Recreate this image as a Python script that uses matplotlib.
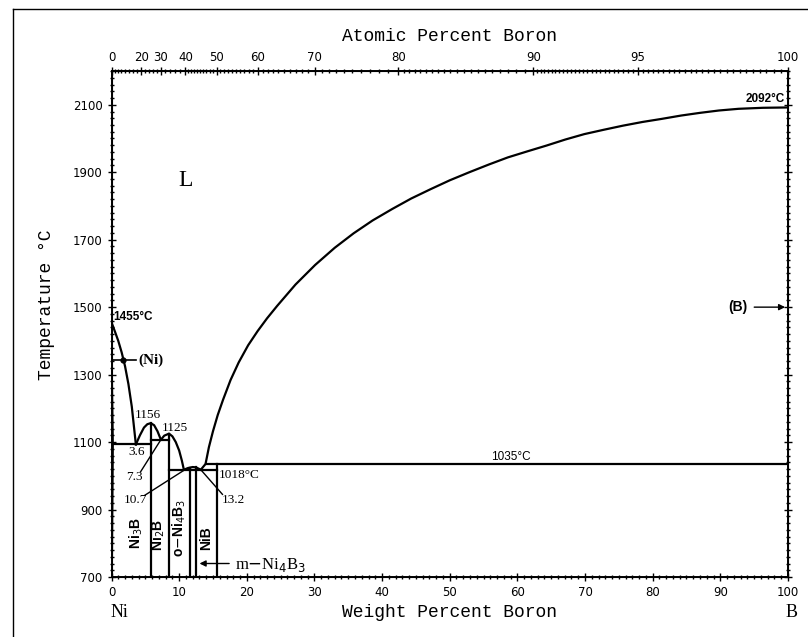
import numpy as np
import matplotlib
matplotlib.use("Agg")
import matplotlib.pyplot as plt
from matplotlib.lines import Line2D

# Ni-B phase diagram (wt% B, deg C)
liq_ni_x = [0, 0.5, 1.0, 1.5, 2.0, 2.5, 3.0, 3.6]
liq_ni_t = [1455, 1428, 1400, 1366, 1325, 1272, 1205, 1093]
sol_ni_x = [0, 0.25, 0.1]
sol_ni_t = [1455, 1093, 700]

ni3b_x = [3.6, 4.2, 4.8, 5.3, 5.8, 6.3, 6.8, 7.3]
ni3b_t = [1093, 1120, 1143, 1153, 1156, 1150, 1132, 1107]
ni2b_x = [7.3, 7.8, 8.5, 9.0, 9.5, 10.0, 10.4, 10.7]
ni2b_t = [1107, 1119, 1125, 1117, 1100, 1075, 1045, 1018]
o_dome_x = [10.7, 11.3, 12.0, 12.5, 13.2]
o_dome_t = [1018, 1023, 1026, 1025, 1018]

liq_b_x = [13.2, 13.9, 14.4, 15.0, 15.7, 16.5, 17.6, 18.8, 20.2, 21.6, 23.0, 24.5,
           27.2, 30.1, 33.0, 35.8, 38.6, 41.5, 44.3, 47.2, 50.0, 52.9, 55.8, 58.6,
           61.5, 64.3, 67.1, 69.9, 72.8, 75.6, 78.5, 81.3, 84.2, 87.0, 89.8, 92.7,
           96.3, 100]
liq_b_t = [1018, 1035, 1085, 1132, 1180, 1226, 1284, 1336, 1387, 1429, 1467, 1504,
           1567, 1625, 1676, 1719, 1757, 1791, 1822, 1850, 1876, 1900, 1923, 1944,
           1962, 1979, 1997, 2013, 2026, 2038, 2049, 2058, 2068, 2076, 2083, 2088,
           2091, 2092]

# invariant lines: (x from, x to, temperature)
horiz = [(0, 5.8, 1093), (5.8, 8.5, 1107), (8.5, 15.6, 1018), (13.9, 100, 1035)]
# compounds: (wt% B, top temperature)
comp_x = [5.8, 8.5, 11.6, 12.5, 15.6]
comp_top = [1156, 1125, 1024, 1025, 1035]

top_at = [0, 20, 30, 40, 50, 60, 70, 80, 90, 95, 100]


def at2wt(a):
    a = np.asarray(a, dtype=float)
    return 100 * a * 10.81 / (a * 10.81 + (100 - a) * 58.69)


plt.rcParams['font.family'] = ['DejaVu Sans']
fig = plt.figure(figsize=(8.08, 6.37), dpi=100)
ax = fig.add_axes([0.138, 0.0942, 0.8372, 0.7943])

lw = 1.6
ax.plot(liq_ni_x, liq_ni_t, color='k', lw=lw)
ax.plot(sol_ni_x, sol_ni_t, color='k', lw=1.0)
ax.plot(ni3b_x, ni3b_t, color='k', lw=lw)
ax.plot(ni2b_x, ni2b_t, color='k', lw=lw)
ax.plot(o_dome_x, o_dome_t, color='k', lw=lw)
ax.plot(liq_b_x, liq_b_t, color='k', lw=lw, solid_joinstyle='round')
for x0, x1, t in horiz:
    ax.plot([x0, x1], [t, t], color='k', lw=lw)
for x, t in zip(comp_x, comp_top):
    ax.plot([x, x], [700, t], color='k', lw=lw)

# labels and leader lines
serif = 'Liberation Serif'
ax.text(11.0, 1875, 'L', family=serif, fontsize=17, ha='center', va='center')
ax.text(0.2, 1472, '1455°C', family='Liberation Sans', weight='bold', fontsize=8.5, ha='left', va='center')
ax.plot([0, 3.6], [1342, 1342], color='k', lw=1.2)
ax.plot([1.7], [1342], marker='o', ms=3.5, color='k')
ax.text(4.0, 1342, '(Ni)', family=serif, weight='bold', fontsize=11, ha='left', va='center')
ax.text(5.3, 1180, '1156', family=serif, fontsize=9.5, ha='center', va='center')
ax.text(9.4, 1142, '1125', family=serif, fontsize=9.5, ha='center', va='center')
ax.text(3.7, 1072, '3.6', family=serif, fontsize=9.5, ha='center', va='center')
ax.text(3.4, 997, '7.3', family=serif, fontsize=9.5, ha='center', va='center')
ax.plot([4.3, 7.3], [1012, 1107], color='k', lw=1.0)
ax.text(3.6, 928, '10.7', family=serif, fontsize=9.5, ha='center', va='center')
ax.plot([4.9, 11.0], [942, 1020], color='k', lw=1.0)
ax.text(16.3, 928, '13.2', family=serif, fontsize=9.5, ha='left', va='center')
ax.plot([16.4, 13.2], [945, 1018], color='k', lw=1.0)
ax.text(15.9, 1002, '1018°C', family=serif, fontsize=9.5, ha='left', va='center')
ax.text(59, 1038, '1035°C', family='Liberation Sans', fontsize=8.5, ha='center', va='bottom')
ax.text(99.6, 2100, '2092°C', family='Liberation Sans', weight='bold', fontsize=8.5, ha='right', va='bottom')
ax.annotate('', xy=(100, 1500), xytext=(94.6, 1500),
            arrowprops=dict(arrowstyle='-|>', color='k', lw=1.0, mutation_scale=9))
ax.text(94.0, 1500, '(B)', family='Liberation Sans', weight='bold', fontsize=10, ha='right', va='center')
ax.annotate('', xy=(12.6, 740), xytext=(17.8, 740),
            arrowprops=dict(arrowstyle='-|>', color='k', lw=1.0, mutation_scale=9))
ax.text(18.2, 737, 'm$-$Ni$_4$B$_3$', family=serif, fontsize=12, ha='left', va='center')

sans_b = dict(family='Liberation Sans', weight='bold', fontsize=10, rotation=90,
              ha='center', va='center')
ax.text(3.7, 830, 'Ni$_3$B', **sans_b)
ax.text(6.9, 824, 'Ni$_2$B', **sans_b)
ax.text(10.0, 845, 'o$-$Ni$_4$B$_3$', **sans_b)
ax.text(14.0, 815, 'NiB', **sans_b)

# axes and ticks
ax.set_xlim(0, 100)
ax.set_ylim(700, 2200)
ax.set_xticks(np.arange(0, 101, 10))
ax.set_xticks(np.arange(0, 101, 1), minor=True)
ax.set_yticks(np.arange(700, 2101, 200))
ax.set_yticks(np.arange(700, 2201, 20), minor=True)
ax.tick_params(which='major', direction='inout', length=6, width=1.0, labelsize=8.5,
               right=True, top=False)
ax.tick_params(which='minor', direction='inout', length=3, width=1.0, right=True, top=False)
for s in ax.spines.values():
    s.set_linewidth(1.4)

axt = ax.twiny()
axt.set_xlim(0, 100)
axt.set_xticks(at2wt(top_at))
axt.set_xticklabels([str(a) for a in top_at], fontsize=8.5)
minor_at = np.concatenate([np.arange(0, 20, 2.5), np.arange(20, 40, 2), np.arange(40, 80, 1),
                           np.arange(80, 90, 0.5), np.arange(90, 100, 0.2)])
axt.set_xticks(at2wt(minor_at), minor=True)
axt.tick_params(which='major', direction='inout', length=6, width=1.0, pad=2)
axt.tick_params(which='minor', direction='inout', length=3, width=1.0)

mono = 'Liberation Mono'
fig.text(0.556, 0.943, 'Atomic Percent Boron', family=mono, fontsize=13, ha='center', va='center')
fig.text(0.556, 0.039, 'Weight Percent Boron', family=mono, fontsize=13, ha='center', va='center')
fig.text(0.058, 0.521, 'Temperature °C', family=mono, fontsize=13, rotation=90,
         ha='center', va='center')
fig.text(0.148, 0.039, 'Ni', family=serif, fontsize=13, ha='center', va='center')
fig.text(0.980, 0.039, 'B', family=serif, fontsize=13, ha='center', va='center')

# outer frame of the picture
fig.add_artist(Line2D([0.016, 0.016], [0, 0.986], color='k', lw=1.0, transform=fig.transFigure))
fig.add_artist(Line2D([0.016, 1.0], [0.986, 0.986], color='k', lw=1.0, transform=fig.transFigure))

fig.savefig('out.png', dpi=100)
